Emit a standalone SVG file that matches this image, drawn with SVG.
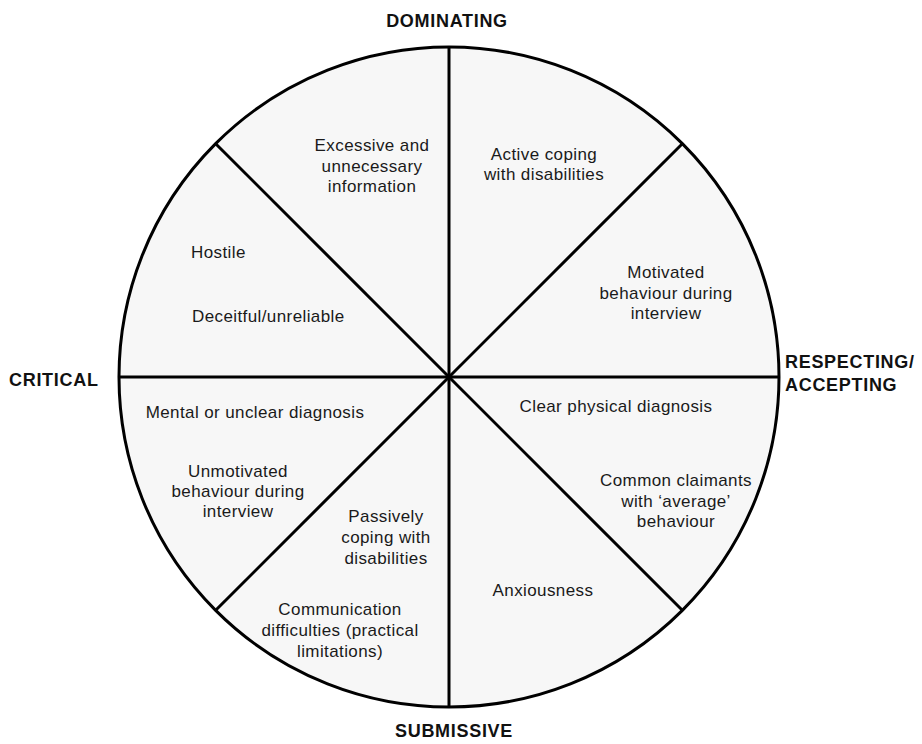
<svg xmlns="http://www.w3.org/2000/svg" width="922" height="744" viewBox="0 0 922 744">
<style>
.t{font-family:"Liberation Sans",Arial,sans-serif;font-size:17px;letter-spacing:0.4px;fill:#1a1a1a;text-anchor:middle}
.l{text-anchor:start}
.h{font-family:"Liberation Sans",Arial,sans-serif;font-size:18px;font-weight:bold;letter-spacing:0.7px;fill:#111}
.ln{stroke:#000;stroke-width:3;fill:none}
</style>
<rect width="922" height="744" fill="#fff"/>
<g id="wheel">
<circle cx="449" cy="377" r="330" fill="#f7f7f7" stroke="#000" stroke-width="3"/>
</g>
<g id="connectors">
<line class="ln" x1="449" y1="47" x2="449" y2="707"/>
<line class="ln" x1="119" y1="377" x2="779" y2="377"/>
<line class="ln" x1="215.7" y1="143.7" x2="682.3" y2="610.3"/>
<line class="ln" x1="682.3" y1="143.7" x2="215.7" y2="610.3"/>
</g>
<g id="axis-labels">
<text class="h" x="447" y="27" text-anchor="middle">DOMINATING</text>
<text class="h" x="9" y="386">CRITICAL</text>
<text class="h" x="785" y="368">RESPECTING/</text>
<text class="h" x="785" y="391">ACCEPTING</text>
<text class="h" x="454" y="737" text-anchor="middle">SUBMISSIVE</text>
</g>
<g id="seg-excessive"><text class="t" x="372" y="151">Excessive and</text><text class="t" x="372" y="172">unnecessary</text><text class="t" x="372" y="192">information</text></g>
<g id="seg-active"><text class="t" x="544" y="160">Active coping</text><text class="t" x="544" y="180">with disabilities</text></g>
<g id="seg-motivated"><text class="t" x="666" y="278">Motivated</text><text class="t" x="666" y="299">behaviour during</text><text class="t" x="666" y="319">interview</text></g>
<g id="seg-hostile"><text class="t l" x="191" y="258">Hostile</text><text class="t l" x="192" y="322">Deceitful/unreliable</text></g>
<g id="seg-mental"><text class="t" x="255" y="418">Mental or unclear diagnosis</text><text class="t" x="238" y="477">Unmotivated</text><text class="t" x="238" y="497">behaviour during</text><text class="t" x="238" y="517">interview</text></g>
<g id="seg-clear"><text class="t" x="616" y="412">Clear physical diagnosis</text><text class="t" x="676" y="486">Common claimants</text><text class="t" x="676" y="507">with ‘average’</text><text class="t" x="676" y="527">behaviour</text></g>
<g id="seg-passive"><text class="t" x="386" y="522">Passively</text><text class="t" x="386" y="543">coping with</text><text class="t" x="386" y="564">disabilities</text><text class="t" x="340" y="615">Communication</text><text class="t" x="340" y="636">difficulties (practical</text><text class="t" x="340" y="657">limitations)</text></g>
<g id="seg-anxious"><text class="t" x="543" y="596">Anxiousness</text></g>
</svg>
